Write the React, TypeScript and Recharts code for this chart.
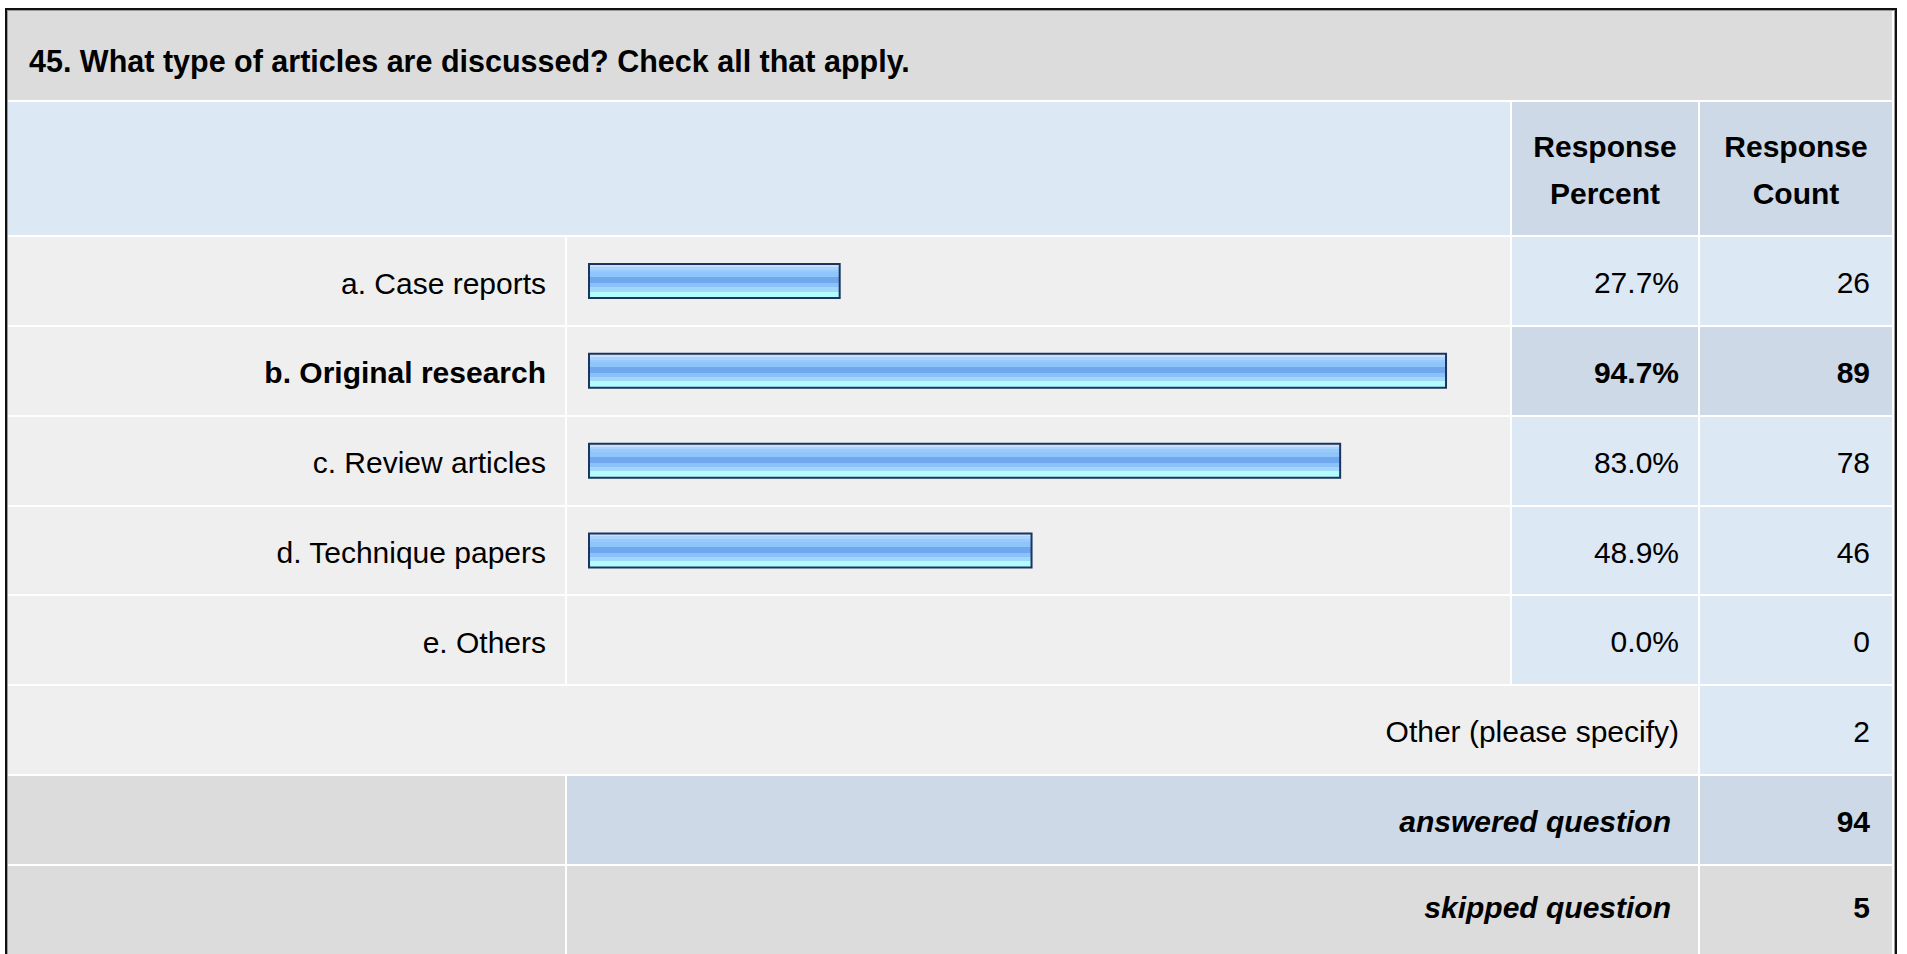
import React from "react";
import { BarChart, Bar, XAxis, YAxis } from "recharts";

const categories = [
  "a. Case reports",
  "b. Original research",
  "c. Review articles",
  "d. Technique papers",
  "e. Others",
];
const percents = [27.7, 94.7, 83.0, 48.9, 0.0];
const counts = [26, 89, 78, 46, 0];

const title = "45. What type of articles are discussed? Check all that apply.";
const otherLabel = "Other (please specify)";
const otherCount = 2;
const answeredCount = 94;
const skippedCount = 5;

const FONT = '"Liberation Sans", Arial, Helvetica, sans-serif';
const GREY = "#dcdcdc";
const LIGHT = "#efefef";
const BLUE = "#dde8f5";
const BLUE_DARK = "#cdd9e6";

// column edges (page px)
const LABEL_L = 8;
const LABEL_R = 565;
const BAR_L = 567;
const BAR_R = 1510;
const PCT_L = 1512;
const PCT_R = 1698;
const CNT_L = 1700;
const CNT_R = 1892;

const HEAD_BOTTOM = 235;
const ROW_H = 89.86;
const rowTop = (i: number) => HEAD_BOTTOM + 2 + i * ROW_H;

const maxIdx = percents.indexOf(Math.max(...percents));

const chartData = categories.map((name, i) => ({ name, pct: percents[i] }));

type CellProps = {
  x1: number;
  x2: number;
  y: number;
  h: number;
  bg: string;
  children?: React.ReactNode;
  align?: "right" | "center" | "left";
  pr?: number;
  pl?: number;
  bold?: boolean;
  italic?: boolean;
  shift?: number;
  lineHeight?: string;
  size?: number;
};

// shift = how many px the text sits below the vertical centre of the cell
function Cell({ x1, x2, y, h, bg, children, align = "right", pr = 0, pl = 0, bold, italic, shift = 2, lineHeight, size }: CellProps) {
  return (
    <div
      style={{
        position: "absolute",
        left: x1,
        top: y,
        width: x2 - x1,
        height: h,
        background: bg,
        boxSizing: "border-box",
        display: "flex",
        alignItems: "center",
        justifyContent: align === "right" ? "flex-end" : align === "center" ? "center" : "flex-start",
        textAlign: align,
        paddingRight: pr,
        paddingLeft: pl,
        fontWeight: bold ? "bold" : "normal",
        fontStyle: italic ? "italic" : "normal",
        fontSize: size,
        lineHeight: lineHeight,
        color: "#000",
      }}
    >
      {children != null && <span style={{ position: "relative", top: shift }}>{children}</span>}
    </div>
  );
}

function LabelTick(props: any) {
  const { x, y, payload, index } = props;
  return (
    <text
      x={x}
      y={y + 2}
      dy="0.355em"
      textAnchor="end"
      fontFamily={FONT}
      fontSize={30}
      fontWeight={index === maxIdx ? "bold" : "normal"}
      fill="#000"
    >
      {payload.value}
    </text>
  );
}

export default function App() {
  const rowH = ROW_H - 2;
  return (
    <div
      style={{
        position: "absolute",
        left: 0,
        top: 0,
        width: 1907,
        height: 954,
        overflow: "hidden",
        background: "#fff",
        fontFamily: FONT,
        fontSize: 30,
      }}
    >
      {/* outer frame */}
      <div
        style={{
          position: "absolute",
          left: 5,
          top: 8,
          width: 1892,
          height: 980,
          border: "2px solid #111",
          boxSizing: "border-box",
        }}
      >
        <div style={{ position: "absolute", inset: 0, border: "1px solid #9a9a9a", background: "#fff" }} />
      </div>

      {/* title */}
      <Cell x1={LABEL_L} x2={CNT_R} y={11} h={89} bg={GREY} align="left" pl={21} bold shift={6} size={30.5}>
        {title}
      </Cell>

      {/* header */}
      <Cell x1={LABEL_L} x2={PCT_L - 2} y={102} h={133} bg={BLUE} />
      <Cell x1={PCT_L} x2={PCT_R} y={102} h={133} bg={BLUE_DARK} align="center" bold lineHeight="46.7px" shift={2}>
        Response
        <br />
        Percent
      </Cell>
      <Cell x1={CNT_L} x2={CNT_R} y={102} h={133} bg={BLUE_DARK} align="center" bold lineHeight="46.7px" shift={2}>
        Response
        <br />
        Count
      </Cell>

      {/* answer rows */}
      {categories.map((c, i) => {
        const hi = i === maxIdx;
        return (
          <React.Fragment key={c}>
            <Cell x1={LABEL_L} x2={LABEL_R} y={rowTop(i)} h={rowH} bg={LIGHT} />
            <Cell x1={BAR_L} x2={BAR_R} y={rowTop(i)} h={rowH} bg={LIGHT} />
            <Cell x1={PCT_L} x2={PCT_R} y={rowTop(i)} h={rowH} bg={hi ? BLUE_DARK : BLUE} pr={19} bold={hi}>
              {percents[i].toFixed(1)}%
            </Cell>
            <Cell x1={CNT_L} x2={CNT_R} y={rowTop(i)} h={rowH} bg={hi ? BLUE_DARK : BLUE} pr={22} bold={hi}>
              {counts[i]}
            </Cell>
          </React.Fragment>
        );
      })}

      {/* other */}
      <Cell x1={LABEL_L} x2={PCT_R} y={rowTop(5)} h={rowH} bg={LIGHT} pr={19}>
        {otherLabel}
      </Cell>
      <Cell x1={CNT_L} x2={CNT_R} y={rowTop(5)} h={rowH} bg={BLUE} pr={22}>
        {otherCount}
      </Cell>

      {/* answered */}
      <Cell x1={LABEL_L} x2={LABEL_R} y={rowTop(6)} h={rowH} bg={GREY} />
      <Cell x1={BAR_L} x2={PCT_R} y={rowTop(6)} h={rowH} bg={BLUE_DARK} pr={27} bold italic>
        answered question
      </Cell>
      <Cell x1={CNT_L} x2={CNT_R} y={rowTop(6)} h={rowH} bg={BLUE_DARK} pr={22} bold>
        {answeredCount}
      </Cell>

      {/* skipped */}
      <Cell x1={LABEL_L} x2={LABEL_R} y={rowTop(7)} h={rowH} bg={GREY} />
      <Cell x1={BAR_L} x2={PCT_R} y={rowTop(7)} h={rowH} bg={GREY} pr={27} bold italic shift={-2}>
        skipped question
      </Cell>
      <Cell x1={CNT_L} x2={CNT_R} y={rowTop(7)} h={rowH} bg={GREY} pr={22} bold shift={-2}>
        {skippedCount}
      </Cell>

      {/* bars */}
      <div style={{ position: "absolute", left: LABEL_L, top: HEAD_BOTTOM + 1, width: BAR_R - LABEL_L, height: ROW_H * 5 }}>
        <BarChart
          width={BAR_R - LABEL_L}
          height={ROW_H * 5}
          data={chartData}
          layout="vertical"
          margin={{ top: 0, right: 0, bottom: 0, left: 0 }}
        >
          <defs>
            <linearGradient id="barGrad" x1="0" y1="0" x2="0" y2="1">
              <stop offset="0" stopColor="#c8e0fc" />
              <stop offset="0.083" stopColor="#c8e0fc" />
              <stop offset="0.083" stopColor="#abd4fc" />
              <stop offset="0.167" stopColor="#abd4fc" />
              <stop offset="0.167" stopColor="#98cafc" />
              <stop offset="0.25" stopColor="#98cafc" />
              <stop offset="0.25" stopColor="#90c5fb" />
              <stop offset="0.396" stopColor="#90c5fb" />
              <stop offset="0.396" stopColor="#6fa8ec" />
              <stop offset="0.56" stopColor="#6fa8ec" />
              <stop offset="0.56" stopColor="#8bc1f8" />
              <stop offset="0.688" stopColor="#8bc1f8" />
              <stop offset="0.688" stopColor="#a2d7fc" />
              <stop offset="0.81" stopColor="#a2d7fc" />
              <stop offset="0.81" stopColor="#b2fcfe" />
              <stop offset="1" stopColor="#b2fcfe" />
            </linearGradient>
          </defs>
          <XAxis type="number" domain={[0, 100]} hide padding={{ left: 22, right: 16 }} />
          <YAxis
            type="category"
            dataKey="name"
            width={LABEL_R + 2 - LABEL_L}
            tickLine={false}
            axisLine={false}
            tickSize={0}
            tickMargin={21}
            interval={0}
            tick={<LabelTick />}
          />
          <Bar
            dataKey="pct"
            fill="url(#barGrad)"
            stroke="#1b3560"
            strokeWidth={2}
            barSize={34}
            isAnimationActive={false}
          />
        </BarChart>
      </div>
    </div>
  );
}
